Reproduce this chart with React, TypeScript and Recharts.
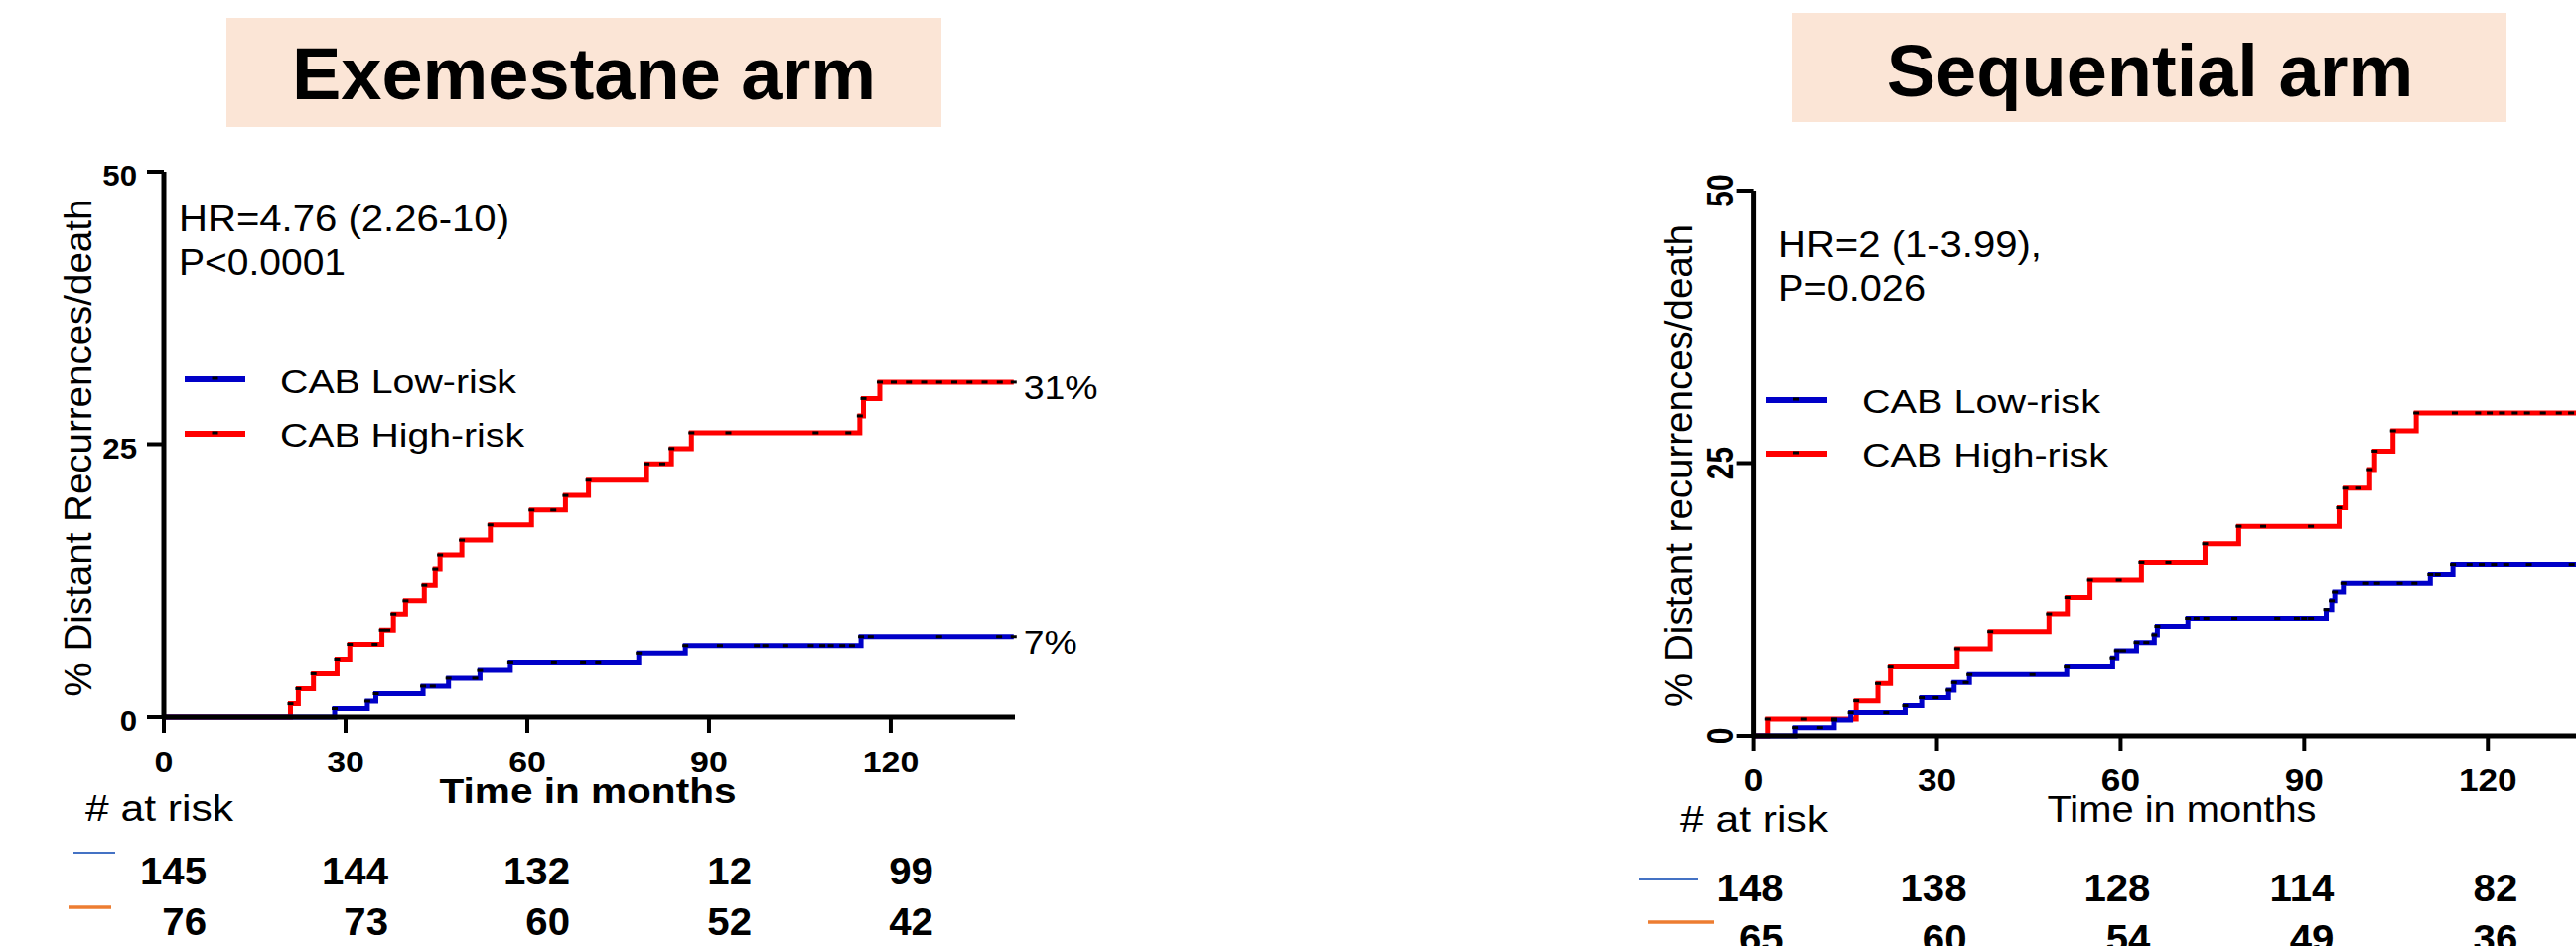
import React from "react";
import { ComposedChart, Line, XAxis, YAxis, ReferenceDot } from "recharts";

// [months, cumulative % distant recurrence/death]; a repeated level is a censor mark
const exeLow: [number, number][] = [
  [0, 0], [11.5, 0], [28.2, 0.77], [33.6, 1.46], [35, 2.14], [42.8, 2.83], [44.4, 2.83],
  [47, 3.56], [51.4, 3.56], [52.2, 4.27], [57.2, 4.97], [64.4, 4.97], [69.2, 4.97], [71.7, 4.97],
  [78.4, 5.8], [86.1, 6.49], [91.8, 6.49], [97.9, 6.49], [99.3, 6.49], [102.6, 6.49],
  [106.8, 6.49], [108.7, 6.49], [110.1, 6.49], [112, 6.49], [113.6, 6.49], [115.1, 7.31],
  [116.7, 7.31], [128, 7.31], [137.9, 7.31], [140.3, 7.31],
];

const exeHigh: [number, number][] = [
  [0, 0], [20.9, 1.22], [22.2, 2.6], [24.7, 3.97], [28.6, 5.24], [30.7, 6.6], [34.8, 6.6],
  [36, 7.9], [36.9, 7.9], [37.9, 9.36], [39.9, 10.67], [43, 12.1], [44.8, 13.56], [45.6, 14.84],
  [49.2, 16.2], [53.9, 17.6], [60.7, 18.96], [64.3, 18.96], [66.3, 20.3], [70.1, 21.7],
  [79.7, 23.2], [82.3, 23.2], [83.8, 24.6], [87.1, 26.05], [93.2, 26.05], [107.6, 26.05],
  [113, 26.05], [114.9, 27.6], [115.5, 29.2], [118.2, 30.7], [120.5, 30.7], [123, 30.7],
  [125.5, 30.7], [128, 30.7], [130.5, 30.7], [133, 30.7], [135.5, 30.7], [138, 30.7],
  [140.3, 30.7],
];

const seqLow: [number, number][] = [
  [0, 0], [6.9, 0.76], [10.9, 0.76], [13.2, 1.46], [15.9, 2.13], [21.7, 2.13], [24.8, 2.77],
  [27.5, 3.5], [29.8, 3.5], [31.9, 4.19], [32.8, 4.89], [34.7, 4.89], [35.3, 5.62], [45.6, 5.62],
  [51.2, 6.32], [58.7, 7.08], [59.4, 7.75], [60.4, 7.75], [62.6, 8.5], [64.2, 8.5], [65.5, 9.2],
  [66, 9.97], [71, 10.7], [72.4, 10.7], [74, 10.7], [78.6, 10.7], [85.6, 10.7], [88.8, 10.7],
  [90, 10.7], [91.1, 10.7], [93.6, 11.5], [94.5, 12.4], [95, 13.2], [96.4, 14], [100.1, 14],
  [101.9, 14], [105.6, 14], [108, 14], [110.6, 14.8], [111.8, 14.8], [114.3, 15.7], [117, 15.7],
  [119, 15.7], [121, 15.7], [123, 15.7], [126.7, 15.7], [133.7, 15.7], [140.3, 15.7],
];

const seqHigh: [number, number][] = [
  [0, 0], [2.3, 1.55], [8.3, 1.55], [13.2, 1.55], [16.8, 3.22], [20.35, 4.8], [22.4, 6.32],
  [33.3, 7.93], [38.7, 9.5], [48.3, 11.1], [51.3, 12.7], [55, 14.3], [59.7, 14.3], [63.4, 15.9],
  [67.8, 15.9], [73.8, 17.6], [79.3, 19.2], [83.3, 19.2], [91.1, 19.2], [95.7, 20.9],
  [96.7, 22.7], [98.8, 22.7], [100.7, 24.4], [101.5, 26.1], [104.5, 27.96], [108.3, 29.6],
  [114.6, 29.6], [118.4, 29.6], [120.3, 29.6], [122.3, 29.6], [124.4, 29.6], [126.4, 29.6],
  [129, 29.6], [131.6, 29.6], [133.6, 29.6], [140.3, 29.6],
];

const timeTicks = [0, 30, 60, 90, 120];
const pctTicks = [0, 25, 50];
const riskTimes = [0, 30, 60, 90, 120];
const exeRiskLow = [145, 144, 132, 12, 99];
const exeRiskHigh = [76, 73, 60, 52, 42];
const seqRiskLow = [148, 138, 128, 114, 82];
const seqRiskHigh = [65, 60, 54, 49, 36];
const seriesNames = ["CAB Low-risk", "CAB High-risk"];
const exeEndLabels = ["7%", "31%"];

const ARIAL = '"Liberation Sans", Arial, sans-serif';
const X_MAX = 140.5;
const BLUE = "#0000C8";
const RED = "#FF0000";
const H = 953;

const toRows = (pts: [number, number][]) => pts.map(([t, v]) => ({ t, v }));

const censorMark = (p: any) => (
  <rect key={`m${p.index}`} x={p.cx - 3} y={p.cy - 1.5} width={6} height={3} fill="#000" />
);

const exeLayout = {
  left: 0,
  width: 1200,
  title: "Exemestane arm",
  box: [228, 18, 720, 110],
  titleX: 588,
  titleY: 100,
  hr: ["HR=4.76 (2.26-10)", "P<0.0001"],
  hrX: 180,
  hrY: [233, 277],
  hrLen: [333, 168],
  hrSize: 37,
  legX: [186, 247],
  legY: [382, 437],
  legTextX: 282,
  legBase: [396, 450],
  legLen: [238, 246],
  yLabel: "% Distant Recurrences/death",
  yLabelX: 92,
  yLabelY: 451,
  xLabelX: 592,
  xLabelY: 809,
  xLabelLen: 299,
  xLabelSize: 35,
  xLabelBold: true,
  riskX: 86,
  riskY: 827,
  riskLen: 149,
  rowBase: [891, 942],
  rowOffset: 43,
  rowMarks: [[74, 116, 859], [69, 112, 914]],
  plot: { left: 165, top: 173, width: 857, height: 549 },
  xTickSize: 30,
  xTickSx: 1.13,
  rotatedY: false,
};

const seqLayout = {
  left: 1560,
  width: 1100,
  title: "Sequential arm",
  box: [245, 13, 719, 110],
  titleX: 605,
  titleY: 97,
  hr: ["HR=2 (1-3.99),", "P=0.026"],
  hrX: 230,
  hrY: [259, 303],
  hrLen: [266, 149],
  hrSize: 36,
  legX: [218, 280],
  legY: [403, 457],
  legTextX: 315,
  legBase: [416, 470],
  legLen: [240, 248],
  yLabel: "% Distant recurrences/death",
  yLabelX: 143.5,
  yLabelY: 469,
  xLabelX: 637,
  xLabelY: 828,
  xLabelLen: 271,
  xLabelSize: 37,
  xLabelBold: false,
  riskX: 132,
  riskY: 838,
  riskLen: 149,
  rowBase: [908, 959],
  rowOffset: 30,
  rowMarks: [[90, 150, 886], [100, 166, 929]],
  plot: { left: 205.6, top: 192, width: 866, height: 549 },
  xTickSize: 32,
  xTickSx: 1.1,
  rotatedY: true,
};

function Panel({ lay, low, high, riskLow, riskHigh, ends }: any) {
  const { plot } = lay;
  const W = lay.width;
  const xOf = (t: number) => plot.left + (t / X_MAX) * plot.width;
  const series = [
    { name: seriesNames[0], color: BLUE, pts: low },
    { name: seriesNames[1], color: RED, pts: high },
  ];

  const xTick = (p: any) => (
    <text
      transform={`translate(${p.x},${p.y + 36}) scale(${lay.xTickSx},1)`}
      textAnchor="middle"
      fontFamily={ARIAL}
      fontWeight={700}
      fontSize={lay.xTickSize}
      fill="#000"
    >
      {p.payload.value}
    </text>
  );

  const yTick = lay.rotatedY
    ? (p: any) => (
        <text
          transform={`translate(${p.x},${p.y}) scale(1.22,1) rotate(-90)`}
          textAnchor="middle"
          fontFamily={ARIAL}
          fontWeight={700}
          fontSize={30}
          fill="#000"
        >
          {p.payload.value}
        </text>
      )
    : (p: any) => (
        <text
          transform={`translate(${p.x},${p.y + 14}) scale(1.04,1)`}
          textAnchor="end"
          fontFamily={ARIAL}
          fontWeight={700}
          fontSize={30}
          fill="#000"
        >
          {p.payload.value}
        </text>
      );

  return (
    <div style={{ position: "absolute", left: lay.left, top: 0, width: W, height: H }}>
      <svg width={W} height={H} style={{ position: "absolute", left: 0, top: 0 }}>
        <rect x={lay.box[0]} y={lay.box[1]} width={lay.box[2]} height={lay.box[3]} fill="#FBE5D6" />
        <text
          x={lay.titleX}
          y={lay.titleY}
          textAnchor="middle"
          fontFamily={ARIAL}
          fontWeight={700}
          fontSize={74}
          fill="#000"
        >
          {lay.title}
        </text>
      </svg>

      <div style={{ position: "absolute", left: 0, top: 0 }}>
        <ComposedChart
          width={W}
          height={H}
          margin={{
            top: plot.top,
            right: W - plot.left - plot.width,
            bottom: H - plot.top - plot.height - 60,
            left: plot.left - 60,
          }}
        >
          <XAxis
            type="number"
            dataKey="t"
            domain={[0, X_MAX]}
            ticks={timeTicks}
            interval={0}
            height={60}
            axisLine={{ stroke: "#000", strokeWidth: 5 }}
            tickLine={{ stroke: "#000", strokeWidth: 4 }}
            tickSize={16}
            tickMargin={4}
            tick={xTick}
          />
          <YAxis
            type="number"
            domain={[0, 50]}
            ticks={pctTicks}
            interval={0}
            width={60}
            axisLine={{ stroke: "#000", strokeWidth: 5 }}
            tickLine={{ stroke: "#000", strokeWidth: 4 }}
            tickSize={17}
            tickMargin={lay.rotatedY ? 4 : 10}
            tick={yTick}
          />
          <Line
            data={toRows(high)}
            dataKey="v"
            type="stepAfter"
            stroke={RED}
            strokeWidth={5}
            strokeLinejoin="miter"
            dot={censorMark}
            activeDot={false}
            isAnimationActive={false}
          />
          <Line
            data={toRows(low)}
            dataKey="v"
            type="stepAfter"
            stroke={BLUE}
            strokeWidth={5}
            strokeLinejoin="miter"
            dot={censorMark}
            activeDot={false}
            isAnimationActive={false}
          />
          {ends &&
            series.map((s, i) => {
              const last = s.pts[s.pts.length - 1];
              return (
                <ReferenceDot
                  key={s.name}
                  x={last[0]}
                  y={last[1]}
                  r={0}
                  ifOverflow="visible"
                  shape={(p: any) => (
                    <text
                      transform={`translate(${p.cx + 10},${p.cy + 17}) scale(1.1,1)`}
                      fontFamily={ARIAL}
                      fontSize={34}
                      fill="#000"
                    >
                      {ends[i]}
                    </text>
                  )}
                />
              );
            })}
        </ComposedChart>
      </div>

      <svg
        width={W}
        height={H}
        style={{ position: "absolute", left: 0, top: 0, pointerEvents: "none" }}
        fontFamily={ARIAL}
      >
        {lay.hr.map((s: string, i: number) => (
          <text
            key={s}
            x={lay.hrX}
            y={lay.hrY[i]}
            fontSize={lay.hrSize}
            textLength={lay.hrLen[i]}
            lengthAdjust="spacingAndGlyphs"
            fill="#000"
          >
            {s}
          </text>
        ))}

        {series.map((s, i) => (
          <g key={s.name}>
            <line x1={lay.legX[0]} x2={lay.legX[1]} y1={lay.legY[i]} y2={lay.legY[i]} stroke={s.color} strokeWidth={6} />
            <rect x={(lay.legX[0] + lay.legX[1]) / 2 - 3} y={lay.legY[i] - 2.5} width={6} height={3} fill="#000" />
            <text
              x={lay.legTextX}
              y={lay.legBase[i]}
              fontSize={34}
              textLength={lay.legLen[i]}
              lengthAdjust="spacingAndGlyphs"
              fill="#000"
            >
              {s.name}
            </text>
          </g>
        ))}

        <text
          transform={`translate(${lay.yLabelX},${lay.yLabelY}) rotate(-90)`}
          textAnchor="middle"
          fontSize={38.5}
          fill="#000"
        >
          {lay.yLabel}
        </text>

        <text
          x={lay.xLabelX}
          y={lay.xLabelY}
          textAnchor="middle"
          fontSize={lay.xLabelSize}
          fontWeight={lay.xLabelBold ? 700 : 400}
          textLength={lay.xLabelLen}
          lengthAdjust="spacingAndGlyphs"
          fill="#000"
        >
          Time in months
        </text>

        <text x={lay.riskX} y={lay.riskY} fontSize={37} textLength={lay.riskLen} lengthAdjust="spacingAndGlyphs" fill="#000">
          # at risk
        </text>

        <line x1={lay.rowMarks[0][0]} x2={lay.rowMarks[0][1]} y1={lay.rowMarks[0][2]} y2={lay.rowMarks[0][2]} stroke="#4472C4" strokeWidth={2} />
        <line x1={lay.rowMarks[1][0]} x2={lay.rowMarks[1][1]} y1={lay.rowMarks[1][2]} y2={lay.rowMarks[1][2]} stroke="#ED7D31" strokeWidth={3.5} />

        {[riskLow, riskHigh].map((row: number[], r: number) =>
          riskTimes.map((t, i) => (
            <text
              key={`${r}-${t}`}
              transform={`translate(${xOf(t) + lay.rowOffset},${lay.rowBase[r]}) scale(1.03,1)`}
              textAnchor="end"
              fontSize={39}
              fontWeight={700}
              fill="#000"
            >
              {row[i]}
            </text>
          ))
        )}
      </svg>
    </div>
  );
}

export default function App() {
  return (
    <div
      style={{
        position: "fixed",
        left: 0,
        top: 0,
        width: 2594,
        height: 953,
        overflow: "hidden",
        background: "#fff",
      }}
    >
      <Panel lay={exeLayout} low={exeLow} high={exeHigh} riskLow={exeRiskLow} riskHigh={exeRiskHigh} ends={exeEndLabels} />
      <Panel lay={seqLayout} low={seqLow} high={seqHigh} riskLow={seqRiskLow} riskHigh={seqRiskHigh} ends={null} />
    </div>
  );
}
